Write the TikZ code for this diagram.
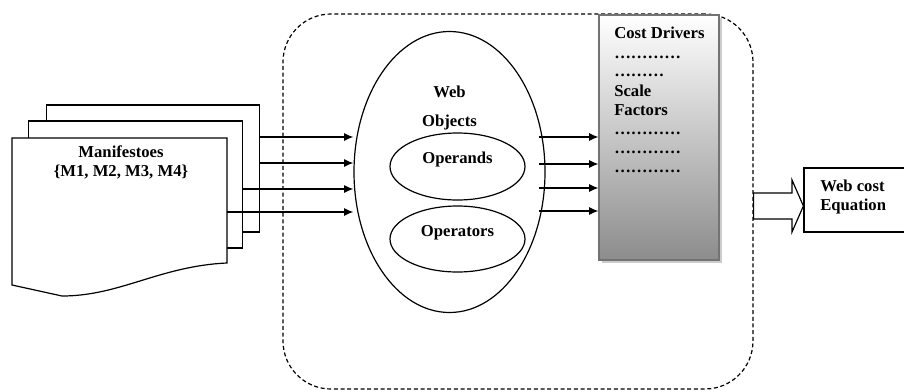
\documentclass[tikz,border=0pt]{standalone}
\usepackage{fontspec}
\setmainfont{Liberation Serif}
\usetikzlibrary{positioning,shapes.geometric,arrows.meta,shadows}

\tikzset{
  page/.style={draw,fill=white,line width=0.9pt,minimum width=160pt,minimum height=95.25pt,inner sep=0pt},
  obj/.style={ellipse,draw,line width=0.9pt,inner sep=0pt},
  link/.style={line width=0.9pt,-{Latex[length=7pt,width=6pt]}},
  costbox/.style={draw=black!55,line width=0.8pt,top color=white,bottom color=black!45,
    minimum width=90pt,minimum height=183.75pt,
    drop shadow={shadow xshift=2pt,shadow yshift=-2pt,fill=black!20,opacity=1}},
}

\begin{document}
\begin{tikzpicture}[x=0.75pt,y=-0.75pt,font=\bfseries\fontsize{12.5}{14.25}\selectfont]
  \useasboundingbox (0,0) rectangle (904,390);

  \node[draw,dashed,dash pattern=on 3pt off 2pt,line width=0.9pt,rounded corners=36pt,
        minimum width=352.5pt,minimum height=281.25pt] (web) at (518,201.5) {};

  % stack of manifestoes
  \node[page] (back) at (153,168.5) {};
  \node[page] (mid)  at (135.5,184.5) {};
  \draw[fill=white,line width=0.9pt] (12,138) -- (227,138) -- (227,263)
     .. controls (160,266) and (120,296) .. (62,296) -- (12,285) -- cycle;
  \coordinate (front) at (227,212);
  \node[align=center] (mtxt) at (121,162.5) {Manifestoes\\\{M1, M2, M3, M4\}};

  % web objects
  \node[obj,minimum width=143.25pt,minimum height=210.75pt] (weo) at (449.5,172) {};
  \node[align=center] (weotxt) at (449.5,108) {Web\\[8pt]Objects};
  \node[obj,minimum width=101.25pt,minimum height=50.25pt] (opd) at (457.5,166.5) {};
  \node (opdtxt) at ([yshift=5pt]opd.center) {Operands};
  \node[obj,minimum width=101.25pt,minimum height=49.5pt] (opr) at (457.5,239) {};
  \node (oprtxt) at ([yshift=5pt]opr.center) {Operators};

  \draw[link] (back.east |- 0,137) -- (weo.west |- 0,137);
  \draw[link] (back.east |- 0,163) -- (weo.west |- 0,163);
  \draw[link] (mid.east |- 0,189) -- (weo.west |- 0,189);
  \draw[link] (front |- 0,212) -- (weo.west |- 0,212);

  % cost drivers and scale factors
  \node[costbox] (cost) at (659,137.5) {};
  \foreach \t/\y [count=\i] in {Cost Drivers/38,…………/58,………/76,Scale/96,Factors/115,…………/134,…………/153,…………/172}
    \node[anchor=base west,inner sep=0pt] (cl\i) at (614,\y) {\t};

  \foreach \y in {137,164,188,211}
    \draw[link] ([xshift=-5pt]weo.east |- 0,\y) -- (cost.west |- 0,\y);

  % result
  \node[draw,line width=0.9pt,minimum width=82.5pt,minimum height=48pt] (eq) at (859,200) {};
  \node[anchor=west,align=left,inner sep=0pt] (eqtxt) at (820,197) {Web cost\\Equation};
  \draw[fill=white,line width=0.9pt] (web.east |- 0,193) -- (792,193) -- (792,180)
     -- (eq.west |- 0,206) -- (792,232) -- (792,219) -- (web.east |- 0,219) -- cycle;
\end{tikzpicture}
\end{document}
